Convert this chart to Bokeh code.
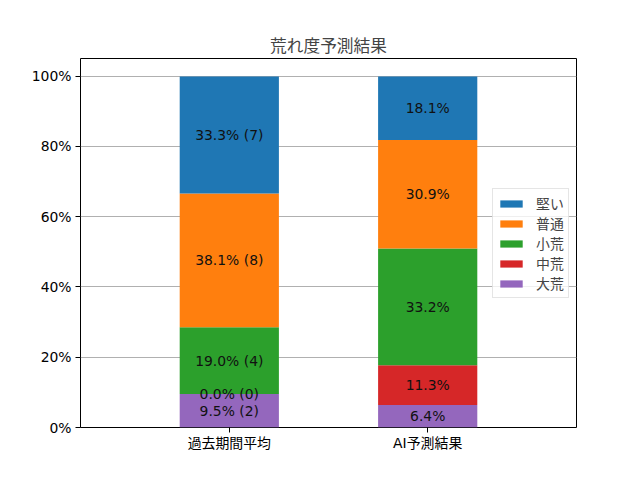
import numpy as np
from bokeh.plotting import figure
from bokeh.models import ColumnDataSource, Legend, LegendItem, FixedTicker, Range1d, Title
from bokeh.core.properties import value
from bokeh.embed import file_html
from bokeh.resources import INLINE

categories = ["過去期間平均", "AI予測結果"]
series = ["大荒", "中荒", "小荒", "普通", "堅い"]
colors = ["#9467bd", "#d62728", "#2ca02c", "#ff7f0e", "#1f77b4"]
past_pct = [9.5, 0.0, 19.0, 38.1, 33.3]
past_count = [2, 0, 4, 8, 7]
ai_pct = [6.4, 11.3, 33.2, 30.9, 18.1]
y_ticks = [0, 20, 40, 60, 80, 100]

FONT = "DejaVu Sans, Noto Sans CJK JP"

p = figure(width=640, height=480, output_backend="svg", toolbar_location=None,
           x_range=Range1d(-0.75, 1.75), y_range=Range1d(0, 105),
           min_border_left=80, min_border_right=64, min_border_top=58, min_border_bottom=53)
p.title = None
p.add_layout(Title(text="荒れ度予測結果", align="center", text_font=FONT,
                   text_font_size="16.7px", text_font_style="normal", standoff=6), "above")

xs = [0, 1]
data = {"x": xs}
for i, s in enumerate(series):
    data[s] = [past_pct[i], ai_pct[i]]
src = ColumnDataSource(data)
rends = p.vbar_stack(series, x="x", width=0.5, source=src, color=colors, line_color=None)

# labels
lx, ly, lt = [], [], []
for j, pct in enumerate([past_pct, ai_pct]):
    arr = np.array(pct)
    tops = np.cumsum(arr)
    mids = tops - arr / 2
    for i in range(len(series)):
        lx.append(xs[j])
        ly.append(mids[i])
        if j == 0:
            lt.append(f"{pct[i]:.1f}% ({past_count[i]})")
        else:
            lt.append(f"{pct[i]:.1f}%")
p.text(x=lx, y=ly, text=lt, text_align="center", text_baseline="middle",
       text_font=value(FONT), text_font_size="13.9px", text_color="#111111")

items = [LegendItem(label=series[i], renderers=[rends[i]]) for i in reversed(range(len(series)))]
legend = Legend(items=items, location=(412, 129), label_text_font=FONT,
                label_text_font_size="13.9px", glyph_width=28, glyph_height=9,
                label_height=14, label_standoff=11, spacing=0, padding=4, margin=0,
                border_line_color="#cccccc", background_fill_alpha=0.8)
p.add_layout(legend, "center")

p.xaxis.ticker = FixedTicker(ticks=xs)
p.xaxis.major_label_overrides = {xs[i]: categories[i] for i in range(len(xs))}
p.yaxis.ticker = FixedTicker(ticks=y_ticks)
p.yaxis.major_label_overrides = {t: f"{t}%" for t in y_ticks}
for ax in [p.xaxis[0], p.yaxis[0]]:
    ax.axis_line_color = None
    ax.major_tick_in = 0
    ax.major_tick_out = 5
    ax.minor_tick_line_color = None
    ax.major_tick_line_color = "black"
    ax.major_label_text_font = FONT
    ax.major_label_text_font_size = "13.9px"
    ax.major_label_text_color = "black"
    ax.major_label_standoff = 4
p.xaxis.major_label_standoff = 2
p.xgrid.grid_line_color = None
p.ygrid.grid_line_color = "#b0b0b0"
p.ygrid.grid_line_width = 1
p.outline_line_color = "black"
p.outline_line_alpha = 1
p.outline_line_width = 1

open("out.html", "w").write(file_html(p, INLINE))
